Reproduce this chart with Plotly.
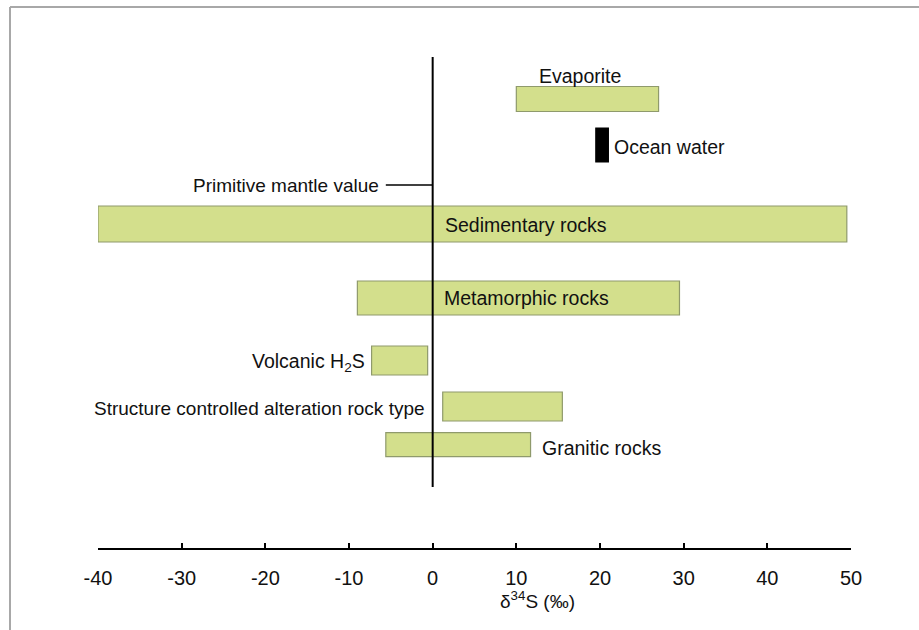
import plotly.graph_objects as go

# Sulfur isotope ranges of natural reservoirs (delta 34S, per mil)
categories = [
    "Evaporite",
    "Ocean water",
    "Sedimentary rocks",
    "Metamorphic rocks",
    "Volcanic H<sub>2</sub>S",
    "Structure controlled alteration rock type",
    "Granitic rocks",
]
range_low = [10, 19.5, -40, -9, -7.3, 1.2, -5.6]
range_high = [27, 21, 49.5, 29.5, -0.6, 15.5, 11.7]
primitive_mantle = 0
x_ticks = [-40, -30, -20, -10, 0, 10, 20, 30, 40, 50]

# Layout: row centres and thicknesses (y axis measured downward in px)
row_y = [99, 145, 224, 298, 360.5, 406.5, 444.7]
row_h = [25, 34, 36, 34, 29, 29, 24]
fill = ["#d3df8c", "#000000", "#d3df8c", "#d3df8c", "#d3df8c", "#d3df8c", "#d3df8c"]
edge = ["#8f9a6c", "#000000", "#8f9a6c", "#8f9a6c", "#8f9a6c", "#8f9a6c", "#8f9a6c"]

# label placement: (x, y, xanchor, font size)
label_pos = [
    (17.6, 76, "center", 19.5),
    (21.4, 147, "left", 19.5),
    (1.2, 225, "left", 19.5),
    (1.1, 298, "left", 19.5),
    (-7.9, 362, "right", 19.5),
    (-0.7, 408, "right", 19),
    (12.8, 448, "left", 19.5),
]

FONT = "Arial, Liberation Sans, sans-serif"
L, R, T, B = 98, 68, 40, 82
W, H = 919, 630


def px_x(p):
    return (p - L) / (W - L - R)


def px_y(p):
    return (H - B - p) / (H - T - B)


fig = go.Figure()
fig.add_trace(go.Bar(
    orientation="h",
    y=row_y,
    base=range_low,
    x=[hi - lo for lo, hi in zip(range_low, range_high)],
    width=row_h,
    marker=dict(color=fill, line=dict(color=edge, width=1.2)),
    hoverinfo="skip",
    showlegend=False,
))

# zero reference line
fig.add_shape(type="line", xref="x", yref="y", x0=primitive_mantle, x1=primitive_mantle,
              y0=57, y1=487, line=dict(color="black", width=2), layer="above")
# primitive mantle marker
fig.add_shape(type="line", xref="x", yref="y", x0=-5.6, x1=primitive_mantle,
              y0=185, y1=185, line=dict(color="black", width=1.5))
fig.add_annotation(x=-6.2, y=185, xref="x", yref="y", text="Primitive mantle value",
                   showarrow=False, xanchor="right", yanchor="middle",
                   font=dict(family=FONT, size=19, color="#111"))

for name, (lx, ly, anc, fs) in zip(categories, label_pos):
    fig.add_annotation(x=lx, y=ly, xref="x", yref="y", text=name, showarrow=False,
                       xanchor=anc, yanchor="middle",
                       font=dict(family=FONT, size=fs, color="#111"))

# axis title
fig.add_annotation(x=px_x(537), y=px_y(600), xref="paper", yref="paper",
                   text="δ<sup>34</sup>S (‰)", showarrow=False,
                   xanchor="center", yanchor="middle",
                   font=dict(family=FONT, size=19, color="#111"))

# outer frame (left and top edges)
frame = dict(color="#a8a8a8", width=2)
fig.add_shape(type="line", xref="paper", yref="paper", x0=px_x(10), x1=px_x(10),
              y0=px_y(7), y1=px_y(630), line=frame)
fig.add_shape(type="line", xref="paper", yref="paper", x0=px_x(10), x1=px_x(919),
              y0=px_y(7), y1=px_y(7), line=frame)

fig.update_layout(
    width=W, height=H,
    margin=dict(l=L, r=R, t=T, b=B),
    paper_bgcolor="white", plot_bgcolor="white",
    font=dict(family=FONT, size=20, color="#111"),
    xaxis=dict(
        range=[-40, 50], tickvals=x_ticks, ticktext=[str(v) for v in x_ticks],
        showgrid=False, zeroline=False, showline=True, linecolor="black", linewidth=1.5,
        ticks="inside", ticklen=5, tickwidth=1.5, tickcolor="black",
        tickfont=dict(family=FONT, size=20, color="#111"), ticklabelstandoff=11,
    ),
    yaxis=dict(range=[548, 40], showgrid=False, zeroline=False, showline=False,
               showticklabels=False, ticks=""),
)

fig.write_html("out.html")
